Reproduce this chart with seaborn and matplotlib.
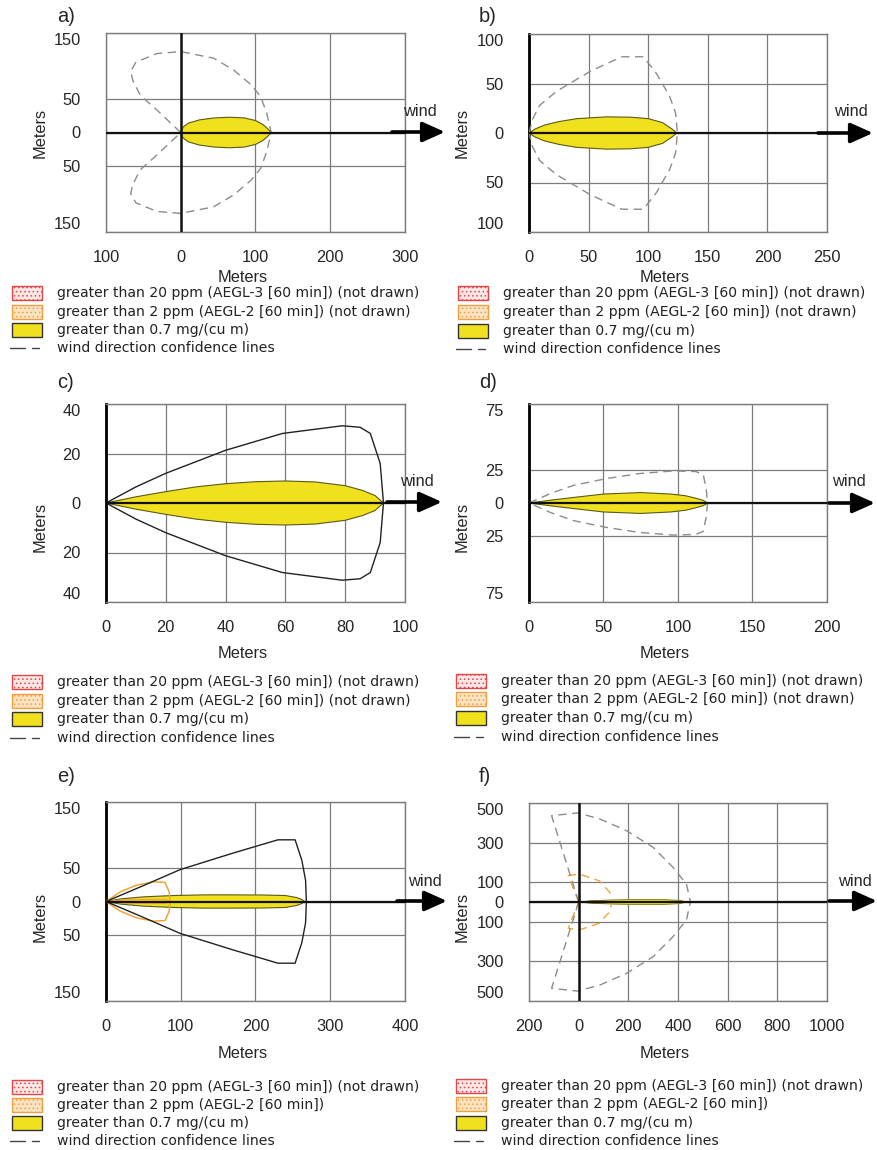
import numpy as np
import matplotlib
matplotlib.use("Agg")
import matplotlib.pyplot as plt
import seaborn as sns
from matplotlib.patches import Rectangle, FancyArrowPatch
from matplotlib.lines import Line2D

# ---------------- data ----------------
# panel a
a_xticks = [-100, 0, 100, 200, 300]
a_yticks = [-150, -50, 0, 50, 150]
a_plume_x = [0, 3, 10, 25, 45, 65, 85, 100, 110, 117, 121]
a_plume_hw = [0, 8, 14, 19, 22, 23, 22, 18, 12, 5, 0]
a_conf_x = [0, -32, -54, -64, -67, -60, -32, 0, 44, 71, 94, 107, 115, 121]
a_conf_y = [0, 34, 56, 78, 92, 106, 119, 122, 112, 94, 72, 54, 29, 0]

# panel b
b_xticks = [0, 50, 100, 150, 200, 250]
b_yticks = [-100, -50, 0, 50, 100]
b_plume_x = [0, 5, 13, 25, 40, 65, 85, 100, 112, 120, 124]
b_plume_hw = [0, 4, 8, 11.5, 14.5, 16.3, 16, 14.5, 10.5, 4, 0]
b_conf_x = [0, 3, 9, 23, 37, 51, 65, 78, 96, 107, 118, 123, 124.5]
b_conf_y = [0, 14, 28, 42, 52, 62, 70, 77, 77, 60, 37, 20, 0]

# panel c
c_xticks = [0, 20, 40, 60, 80, 100]
c_yticks = [-40, -20, 0, 20, 40]
c_plume_x = [0, 10, 20, 30, 40, 50, 60, 70, 80, 86, 90, 92.8]
c_plume_hw = [0, 2.5, 4.6, 6.5, 7.8, 8.6, 8.9, 8.5, 7, 5, 3, 0]
c_conf_x = [0, 10, 20, 40, 59, 79, 85, 88.4, 91.7, 92.8]
c_conf_y = [0, 6.5, 12, 21.3, 28.1, 31.2, 30.6, 28.1, 16, 0]

# panel d
d_xticks = [0, 50, 100, 150, 200]
d_yticks = [-75, -25, 0, 25, 75]
d_plume_x = [0, 15, 30, 50, 75, 95, 105, 112, 117, 119.8]
d_plume_hw = [0, 2.2, 4.2, 6.8, 7.9, 6.8, 5.5, 3.6, 2, 0]
d_conf_x = [0, 15, 30, 52, 74, 97, 112, 117, 119, 119.8]
d_conf_y = [0, 7.5, 13.4, 18.5, 22.3, 24.3, 23.8, 21.5, 10, 0]

# panel e
e_xticks = [0, 100, 200, 300, 400]
e_yticks = [-150, -50, 0, 50, 150]
e_plume_x = [0, 20, 50, 90, 130, 170, 210, 240, 255, 262, 266]
e_plume_hw = [0, 4, 7, 9, 10, 10, 9.8, 9, 6, 3, 0]
e_conf_x = [0, 46, 99, 170, 230, 253, 262, 267, 268]
e_conf_y = [0, 22, 48, 73, 93, 93, 62, 32, 0]
e_aegl2_x = [0, 19, 41, 64, 79, 84.5, 85.5]
e_aegl2_y = [0, 14.5, 24.7, 29.7, 28.7, 14.5, 0]
e_aegl2_plume_x = [0, 20, 50, 80, 85]
e_aegl2_plume_hw = [0, 2, 3, 3, 0]

# panel f
f_xticks = [-200, 0, 200, 400, 600, 800, 1000]
f_yticks = [-500, -300, -100, 0, 100, 300, 500]
f_plume_x = [12, 60, 150, 258, 350, 410, 434]
f_plume_hw = [0, 7, 11, 13, 12, 8, 0]
f_aegl2_plume_x = [5, 40, 100, 140]
f_aegl2_plume_hw = [0, 5, 6, 0]
f_conf_x = [0, -55, -109, -3, 86, 193, 300, 380, 434, 450]
f_conf_y = [0, 220, 436, 450, 419, 360, 276, 175, 91, 0]
f_aegl2_x = [0, -42, 3, 83, 126, 133]
f_aegl2_y = [0, 133, 141, 107, 48, 0]

legend_labels_nd = [
    "greater than 20 ppm (AEGL-3 [60 min]) (not drawn)",
    "greater than 2 ppm (AEGL-2 [60 min]) (not drawn)",
    "greater than 0.7 mg/(cu m)",
    "wind direction confidence lines",
]
legend_labels_d = [
    "greater than 20 ppm (AEGL-3 [60 min]) (not drawn)",
    "greater than 2 ppm (AEGL-2 [60 min])",
    "greater than 0.7 mg/(cu m)",
    "wind direction confidence lines",
]

# ---------------- style ----------------
sns.set_style("white")
plt.rcParams['font.family'] = ['Liberation Sans', 'DejaVu Sans']
plt.rcParams['hatch.linewidth'] = 0.6

YELLOW = '#f0e01e'
YEDGE = '#5a5a18'
GRID = '#7c7c7c'
ORANGE = '#f0a53c'

W, H = 878, 1150
fig = plt.figure(figsize=(W / 100, H / 100), dpi=100)


def add_ax(l, t, r, b):
    return fig.add_axes([l / W, 1 - b / H, (r - l) / W, (b - t) / H])


def fx(x):
    return x / W


def fy(y):
    return 1 - y / H


def mirror_path(xs, ys):
    xs = np.asarray(xs, float)
    ys = np.asarray(ys, float)
    return np.concatenate([xs, xs[::-1]]), np.concatenate([ys, -ys[::-1]])


def draw_plume(ax, xs, hw, fc, ec, lw=0.8, z=3):
    px, py = mirror_path(xs, hw)
    ax.fill(px, py, facecolor=fc, edgecolor=ec, lw=lw, zorder=z)


def draw_conf(ax, xs, ys, color, dashed, lw=1.0, z=5):
    px, py = mirror_path(xs, ys)
    ls = (0, (6, 4)) if dashed else '-'
    sns.lineplot(x=px, y=py, sort=False, estimator=None, ax=ax,
                 color=color, lw=lw, linestyle=ls, zorder=z)


def setup(ax, xlim, ylim, xticks, yticks, left_black, vzero):
    ax.set_xlim(xlim)
    ax.set_ylim(ylim)
    ax.set_xticks(xticks)
    ax.set_yticks(yticks)
    ax.set_xticklabels([str(abs(t)) for t in xticks], fontsize=11.8)
    ylabels = ax.set_yticklabels([str(abs(t)) for t in yticks], fontsize=11.8)
    ylabels[0].set_va('bottom')
    ylabels[-1].set_va('top')
    ax.tick_params(length=0, pad=13)
    ax.tick_params(axis='y', pad=18)
    ax.grid(True, color=GRID, lw=0.9)
    ax.set_axisbelow(True)
    for s in ax.spines.values():
        s.set_color(GRID)
        s.set_linewidth(1.0)
        s.set_visible(True)
    if left_black:
        ax.spines['left'].set_color('black')
        ax.spines['left'].set_linewidth(2.0)
    ax.axhline(0, color='#111111', lw=1.6, zorder=6)
    if vzero:
        ax.axvline(0, color='#111111', lw=1.8, zorder=6)
    ax.set_xlabel('')
    ax.set_ylabel('')


# ---------------- panels ----------------
ax_a = add_ax(106, 33, 405, 232)
setup(ax_a, (-100, 300), (-150, 150), a_xticks, a_yticks, False, True)
draw_plume(ax_a, a_plume_x, a_plume_hw, YELLOW, YEDGE)
draw_conf(ax_a, a_conf_x, a_conf_y, '#8c8c8c', True)

ax_b = add_ax(529, 34, 827, 232)
setup(ax_b, (0, 250), (-100, 100), b_xticks, b_yticks, True, False)
draw_plume(ax_b, b_plume_x, b_plume_hw, YELLOW, YEDGE)
draw_conf(ax_b, b_conf_x, b_conf_y, '#8c8c8c', True)

ax_c = add_ax(106, 404, 405, 602)
setup(ax_c, (0, 100), (-40, 40), c_xticks, c_yticks, True, False)
draw_plume(ax_c, c_plume_x, c_plume_hw, YELLOW, YEDGE)
draw_conf(ax_c, c_conf_x, c_conf_y, '#222222', False)

ax_d = add_ax(529, 404, 827, 602)
setup(ax_d, (0, 200), (-75, 75), d_xticks, d_yticks, True, False)
draw_plume(ax_d, d_plume_x, d_plume_hw, YELLOW, YEDGE)
draw_conf(ax_d, d_conf_x, d_conf_y, '#8c8c8c', True)

ax_e = add_ax(106, 802, 405, 1001)
setup(ax_e, (0, 400), (-150, 150), e_xticks, e_yticks, True, False)
draw_plume(ax_e, e_plume_x, e_plume_hw, YELLOW, YEDGE)
draw_plume(ax_e, e_aegl2_plume_x, e_aegl2_plume_hw, 'none', ORANGE, lw=0.9, z=4)
draw_conf(ax_e, e_aegl2_x, e_aegl2_y, ORANGE, False, lw=1.1)
draw_conf(ax_e, e_conf_x, e_conf_y, '#222222', False)

ax_f = add_ax(529, 803, 827, 1001)
setup(ax_f, (-200, 1000), (-500, 500), f_xticks, f_yticks, False, True)
draw_plume(ax_f, f_plume_x, f_plume_hw, YELLOW, '#7a7a10', lw=0.6)
draw_plume(ax_f, f_aegl2_plume_x, f_aegl2_plume_hw, '#8a5a18', '#8a5a18', lw=0.6, z=4)
draw_conf(ax_f, f_aegl2_x, f_aegl2_y, ORANGE, True, lw=1.0)
draw_conf(ax_f, f_conf_x, f_conf_y, '#8c8c8c', True)

# ---------------- annotations ----------------
panel_labels = [("a)", 57, 16), ("b)", 479, 16), ("c)", 57, 383),
                ("d)", 479, 383), ("e)", 57, 776), ("f)", 479, 776)]
for txt, x, y in panel_labels:
    fig.text(fx(x), fy(y), txt, fontsize=14.5, ha='left', va='center')

ylab_pos = [(40, 133), (462, 133), (40, 527), (462, 527), (40, 917), (462, 917)]
for x, y in ylab_pos:
    fig.text(fx(x), fy(y), "Meters", rotation=90, fontsize=11.8, ha='center', va='center')

xlab_pos = [(243, 277), (665, 277), (243, 653), (665, 653), (243, 1053), (665, 1053)]
for x, y in xlab_pos:
    fig.text(fx(x), fy(y), "Meters", fontsize=11.8, ha='center', va='center')

arrows = [(392, 445, 132), (818, 873, 133), (387, 442, 502),
          (829, 875, 503), (397, 447, 901), (829, 877, 901)]
for x0, x1, y in arrows:
    fig.add_artist(FancyArrowPatch(
        (fx(x0), fy(y)), (fx(x1), fy(y)), transform=fig.transFigure,
        arrowstyle='-|>,head_length=0.85,head_width=0.38', mutation_scale=16,
        color='black', lw=2.6, shrinkA=0, shrinkB=0))

wind_pos = [(420, 111), (851, 111), (417, 481), (849, 481), (425, 882), (855, 882)]
for x, y in wind_pos:
    fig.text(fx(x), fy(y), "wind", fontsize=11.8, ha='center', va='center')

# ---------------- legends ----------------
def legend_block(px0, tx, rows, labels):
    styles = [
        dict(facecolor='#fde6e6', edgecolor='#e04848', hatch='....'),
        dict(facecolor='#fbe4c4', edgecolor='#f0a040', hatch='....'),
        dict(facecolor=YELLOW, edgecolor='#333333', hatch=None),
    ]
    for i in range(3):
        y = rows[i]
        r = Rectangle((fx(px0), fy(y + 7)), 30 / W, 14 / H, transform=fig.transFigure,
                      lw=1.0, **styles[i])
        fig.add_artist(r)
    y = rows[3]
    fig.add_artist(Line2D([fx(px0 - 2), fx(px0 + 13)], [fy(y), fy(y)],
                          transform=fig.transFigure, color='#444444', lw=1.0))
    fig.add_artist(Line2D([fx(px0 + 20), fx(px0 + 27)], [fy(y), fy(y)],
                          transform=fig.transFigure, color='#444444', lw=1.0))
    for lab, y in zip(labels, rows):
        fig.text(fx(tx), fy(y), lab, fontsize=10.1, family='DejaVu Sans',
                 color='#222222', ha='left', va='center')


legend_block(12, 57, [293, 312, 330, 348], legend_labels_nd)
legend_block(458, 503, [293, 312, 331, 349], legend_labels_nd)
legend_block(12, 57, [682, 701, 719, 738], legend_labels_nd)
legend_block(456, 501, [681, 699, 718, 737], legend_labels_nd)
legend_block(12, 57, [1087, 1105, 1123, 1141], legend_labels_d)
legend_block(456, 501, [1086, 1104, 1123, 1141], legend_labels_d)

fig.savefig("out.png", dpi=100)
